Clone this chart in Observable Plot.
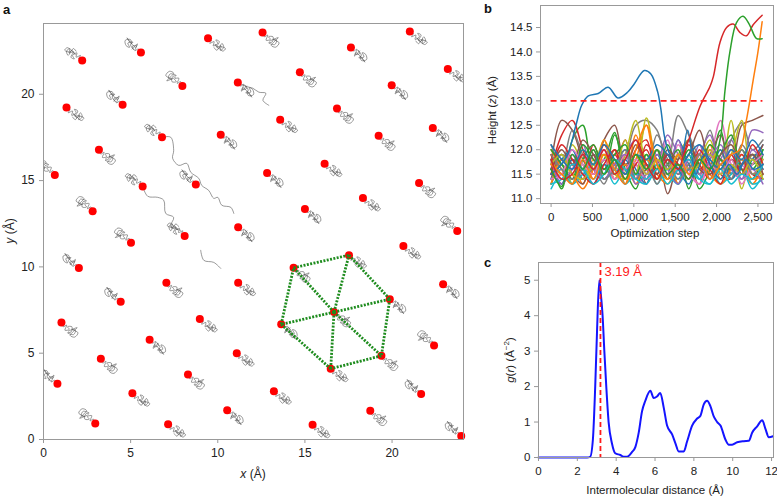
<!DOCTYPE html>
<html><head><meta charset="utf-8">
<script src="https://cdn.jsdelivr.net/npm/d3@7"></script>
<script src="https://cdn.jsdelivr.net/npm/@observablehq/plot@0.6"></script>
<style>
body{margin:0;background:#fff;font-family:"Liberation Sans",Arial,sans-serif;}
#wrap{position:relative;width:777px;height:498px;overflow:hidden;background:#fff;}
.abs{position:absolute;}
.lab{position:absolute;font-weight:bold;font-size:13px;color:#111;}
.t{position:absolute;font-size:12px;color:#222;white-space:nowrap;transform:translate(-50%,-50%);}
.rot{transform:translate(-50%,-50%) rotate(-90deg);}
</style></head><body><div id="wrap">
<div class="lab" style="left:3px;top:2px">a</div>
<div class="lab" style="left:484px;top:1px">b</div>
<div class="lab" style="left:484px;top:255px">c</div>
<div id="pa" class="abs" style="left:0;top:0"></div>
<div id="pb" class="abs" style="left:480px;top:0"></div>
<div id="pc" class="abs" style="left:480px;top:250px"></div>
<div class="t" style="left:253px;top:474px"><i>x</i> (Å)</div>
<div class="t rot" style="left:10px;top:231px"><i>y</i> (Å)</div>
<div class="t" style="left:655px;top:233px;font-size:11.5px">Optimization step</div>
<div class="t rot" style="left:492px;top:110px;font-size:11.5px">Height (<i>z</i>) (Å)</div>
<div class="t" style="left:655px;top:490px;font-size:11.5px">Intermolecular distance (Å)</div>
<div class="t rot" style="left:509px;top:360px;font-size:11.5px"><i>g</i>(<i>r</i>) (Å<sup style="font-size:8px">−2</sup>)</div>
</div>
<script>
// ---------- Panel a data ----------
const aX = [2.22,5.59,7.97,9.44,11.15,12.57,1.32,4.54,3.18,6.80,10.17,0.65,5.69,8.74,2.82,8.10,11.17,5.02,
  21.02,17.64,14.71,23.20,19.98,16.84,13.58,22.34,19.23,16.13,12.83,21.55,18.33,15.00,23.74,20.65,
  2.03,7.05,11.17,4.43,1.03,8.97,6.09,3.29,11.09,0.80,8.29,5.10,10.54,2.97,7.15,
  22.93,22.41,13.22,21.67,18.75,15.44,23.97,
  14.35,17.53,19.87,19.39,16.48,13.64,16.67];
const aY = [21.95,22.42,20.48,23.25,20.68,23.58,19.23,19.40,16.79,17.51,17.66,15.32,14.65,14.78,13.22,11.79,12.29,11.40,
  23.63,22.71,21.28,21.47,20.52,19.17,18.53,18.05,17.60,15.98,15.44,14.86,13.99,13.35,12.08,11.21,
  9.93,9.08,9.08,7.98,6.78,6.98,5.78,4.68,5.00,3.23,3.77,2.68,1.70,0.93,0.89,
  9.00,5.45,2.80,2.63,1.66,0.85,0.21,
  9.95,10.68,8.13,4.85,4.10,6.67,7.38];
const aDir = [-1,-1,-1,1,1,1,1,-1,1,-1,1,-1,-1,-1,-1,-1,1,-1,
  1,1,1,1,1,1,1,1,1,1,1,1,1,1,-1,1,
  -1,1,1,-1,1,1,1,1,1,-1,1,1,1,-1,1,
  1,-1,1,-1,1,1,-1,
  1,1,1,1,1,1,1];
// squiggle shapes (offsets in Å from each molecule)
const tangle0 = [[0,0],[0.2,-0.1],[0.1,-0.3],[0.35,-0.2],[0.3,-0.45],[0.55,-0.3],[0.45,-0.1],[0.65,-0.2],[0.5,-0.5],[0.75,-0.45],[0.7,-0.7],[0.9,-0.55],[0.8,-0.3],[0.6,-0.6],[0.4,-0.35],[0.85,-0.75],[1.0,-0.6],[0.7,-0.5],[0.5,-0.7],[0.35,-0.55]];
const tangle1 = [[0,0],[0.15,-0.2],[0.35,-0.1],[0.25,-0.4],[0.5,-0.35],[0.4,-0.15],[0.6,-0.45],[0.45,-0.6],[0.75,-0.55],[0.65,-0.3],[0.85,-0.4],[0.9,-0.7],[0.6,-0.75],[0.55,-0.5],[0.8,-0.85],[0.3,-0.3],[0.2,-0.5],[0.5,-0.2]];
const tangle2 = [[0,0],[0.1,-0.25],[0.3,-0.15],[0.2,-0.45],[0.45,-0.4],[0.35,-0.25],[0.6,-0.25],[0.55,-0.55],[0.35,-0.6],[0.7,-0.7],[0.8,-0.45],[0.6,-0.4],[0.95,-0.6],[0.75,-0.85],[0.5,-0.75],[0.65,-0.55],[0.9,-0.3],[0.4,-0.5]];
const trail1 = [[6.78,17.51],[7.30,17.51],[7.47,16.75],[7.41,16.29],[7.76,15.88],[8.22,16.0],[8.45,15.48],[8.91,15.13],[9.08,14.72],[9.48,14.43],[9.77,13.97],[10.0,14.03],[10.23,13.57],[10.75,13.45],[10.92,13.10]];
const trail2 = [[5.69,14.67],[5.98,14.09],[6.55,14.03],[6.90,13.86],[7.01,13.10],[7.47,12.87],[7.30,12.35],[7.87,12.12]];
const trail3 = [[11.15,20.70],[11.61,20.46],[12.01,20.35],[12.36,20.12],[12.76,20.06],[12.59,19.65],[12.93,19.36]];
const trail4 = [[9.02,10.96],[9.20,10.38],[9.77,10.26],[10.17,9.91]];
const ticksA = [0,5,10,15,20];

// ---------- Panel b data ----------
const stepB = [0,128,256,384,512,640,768,896,1024,1152,1280,1408,1536,1664,1792,1920,2048,2176,2304,2432,2560];
const bgSeries = [
 [11.9,11.4,11.7,11.3,11.8,11.5,12.0,11.3,12.3,11.6,11.4,11.9,11.3,11.7,11.5,12.1,11.4,11.8,11.6,11.3,11.7],
 [11.8,11.2,12.2,12.5,11.6,11.8,12.35,11.5,11.9,11.4,12.0,11.7,11.3,11.9,11.2,11.6,12.4,11.5,11.8,11.6,12.0],
 [11.6,12.3,12.6,12.0,11.5,12.1,11.7,12.2,11.4,12.1,11.8,11.5,11.9,11.6,11.3,12.0,11.5,11.4,11.7,11.9,11.5],
 [11.4,11.9,11.6,12.1,11.5,11.8,11.4,11.9,12.2,11.5,11.7,12.3,11.9,11.6,12.1,11.5,11.8,12.2,11.7,12.4,12.35],
 [11.7,12.6,12.4,11.8,11.5,12.2,12.5,11.7,11.9,11.3,12.0,11.1,11.8,12.2,11.6,11.9,12.3,11.5,12.5,12.6,12.7],
 [11.3,11.6,11.4,11.7,11.3,11.6,11.4,11.9,11.5,11.3,11.7,11.4,12.1,11.6,11.3,11.8,12.6,11.7,11.4,11.9,11.6],
 [12.1,11.7,12.4,11.9,11.6,12.0,11.5,11.8,12.5,12.6,12.4,11.7,12.7,12.3,11.9,12.4,11.6,12.2,12.55,12.0,12.2],
 [11.5,11.9,11.3,12.0,11.7,12.2,11.4,11.9,12.6,11.8,12.0,11.4,11.9,12.2,11.7,12.0,11.5,12.6,11.2,11.9,11.8],
 [11.2,11.5,11.3,11.6,11.4,11.7,11.3,11.6,11.5,11.8,11.3,11.6,11.4,11.9,11.5,11.3,11.7,11.4,11.6,11.2,11.5],
 [11.5,11.8,12.0,11.5,11.9,11.4,11.7,12.0,11.6,11.3,11.9,11.5,12.2,11.7,11.4,11.9,11.6,12.0,11.5,11.8,12.1],
 [12.0,11.6,11.3,11.9,11.5,12.2,11.7,11.4,11.8,12.5,11.6,11.9,11.3,11.8,11.5,11.7,12.0,11.4,11.9,11.5,11.6],
 [11.3,11.7,11.4,12.1,11.8,11.5,12.3,11.6,11.2,11.9,11.4,11.7,12.0,11.2,11.8,11.5,11.9,12.3,11.6,11.4,11.9],
 [11.9,11.5,11.8,11.4,12.1,11.6,11.9,11.5,12.0,12.2,11.4,11.8,11.5,12.1,11.7,11.4,11.8,11.6,11.9,11.5,11.4],
 [11.6,11.3,11.9,11.5,11.7,12.0,11.6,11.3,11.7,11.4,12.0,11.6,12.2,11.5,11.9,12.3,11.7,11.9,11.4,12.0,11.7],
 [11.4,11.8,11.5,11.3,11.9,11.6,12.0,11.7,11.4,11.6,11.8,11.4,11.6,11.9,12.4,11.7,11.5,11.8,11.6,11.7,12.1],
 [11.7,11.4,11.6,11.9,11.4,11.8,11.5,11.9,11.7,11.4,11.6,12.2,11.5,11.8,11.4,11.9,11.5,12.0,11.7,11.5,11.8],
 [11.5,11.9,11.7,11.4,11.6,11.3,11.8,11.5,11.9,11.6,12.3,11.8,11.5,11.7,11.9,11.4,11.8,11.5,12.1,11.8,11.9],
 [11.8,11.5,12.1,11.7,11.4,11.9,11.6,12.2,11.5,12.65,11.7,11.4,11.9,11.6,11.8,12.2,11.6,11.9,12.6,11.5,11.8],
 [11.4,11.6,11.3,11.5,11.7,11.4,11.6,11.3,11.5,11.4,11.7,11.5,11.3,11.6,11.4,11.7,11.3,11.5,11.8,11.3,11.4],
 [11.6,11.3,11.8,11.6,11.3,11.7,11.5,11.8,11.4,11.7,11.5,11.9,11.6,11.3,11.8,11.6,12.0,11.4,11.7,11.9,11.6],
 [11.3,11.8,11.5,11.2,11.6,11.9,11.4,11.7,11.3,11.8,11.5,11.3,11.7,11.4,11.9,11.5,11.3,11.6,11.8,11.4,11.5],
 [12.0,11.7,11.4,11.8,12.1,11.6,11.9,12.1,11.5,11.9,11.6,12.1,11.6,12.0,11.7,12.1,11.8,11.6,12.0,11.7,12.0],
 [11.5,12.1,11.8,11.5,11.3,11.7,12.0,11.4,11.7,12.0,11.5,11.9,11.7,11.4,12.0,11.6,11.3,11.9,11.5,12.1,11.7],
 [11.8,11.3,11.6,11.9,11.6,11.4,11.7,11.9,11.3,11.5,11.9,11.6,11.3,11.8,11.5,11.8,12.1,11.6,11.4,11.6,11.3],
 [11.6,12.0,11.7,12.2,11.9,11.5,11.8,11.6,12.1,11.7,11.5,12.0,11.8,12.2,11.6,11.5,11.9,12.1,11.7,11.9,11.5],
 [11.4,11.5,12.0,11.7,11.5,12.0,11.4,11.6,11.8,11.5,11.8,11.5,11.9,11.5,11.3,11.7,11.5,11.8,11.3,11.7,11.9],
 [11.9,11.6,11.4,11.6,12.0,11.4,11.6,12.0,11.4,11.7,11.3,11.7,11.4,11.6,11.9,11.4,11.7,11.4,12.0,11.5,11.6],
 [11.7,11.9,11.5,11.4,11.7,11.9,11.5,11.4,11.9,11.5,11.8,11.6,11.9,11.5,11.7,11.9,11.5,11.7,11.5,11.8,11.4],
 [11.3,11.4,11.7,11.6,11.3,11.5,11.8,11.6,11.4,11.3,11.6,11.3,11.6,11.8,11.4,11.3,11.6,11.3,11.5,11.4,11.7],
 [12.1,11.8,11.6,12.0,11.7,12.1,11.8,11.5,11.9,11.8,12.1,11.9,11.6,11.9,12.1,11.8,11.6,12.0,11.8,12.2,11.9]
];
const blueStep = [0,100,200,300,370,450,570,690,808,927,1007,1126,1206,1285,1325,1365,1393,1450,1550,1650,1750,1850,1950,2050,2150,2250,2350,2450,2560];
const blueZ = [11.5,11.65,11.9,12.5,12.91,13.1,13.15,13.28,13.06,13.18,13.35,13.62,13.55,13.2,12.85,12.32,12.1,11.85,11.6,12.4,11.5,11.9,11.6,11.4,11.7,11.5,11.8,11.6,11.7];
const redStep = [0,128,256,384,512,640,768,896,1024,1152,1280,1408,1536,1600,1684,1803,1922,1962,2042,2121,2201,2281,2360,2440,2551];
const redZ = [11.8,11.4,11.5,11.9,11.6,12.0,11.5,11.8,12.2,11.7,11.4,11.8,11.6,11.9,12.3,12.9,13.3,13.5,14.2,14.5,14.57,14.4,14.33,14.55,14.75];
const greenStep = [0,128,256,384,512,640,768,896,1024,1152,1280,1408,1536,1664,1792,1920,2042,2101,2161,2241,2320,2400,2480,2551];
const greenZ = [11.6,11.25,11.9,11.6,12.0,11.5,11.8,11.4,11.9,11.6,12.0,11.5,11.7,11.4,11.8,11.6,12.2,13.2,14.0,14.6,14.73,14.55,14.28,14.27];
const orangeStep = [0,128,256,384,512,640,768,896,1024,1152,1280,1408,1536,1664,1792,1920,2048,2176,2281,2360,2440,2500,2551];
const orangeZ = [11.7,11.5,11.3,11.8,11.4,11.9,11.6,11.3,12.0,12.5,11.7,11.4,11.9,11.5,11.8,11.4,11.7,11.9,12.0,12.6,13.4,14.0,14.62];
const cutoffZ = 13.0;
const ticksBx = [0,500,1000,1500,2000,2500];
const ticksBy = [11.0,11.5,12.0,12.5,13.0,13.5,14.0,14.5];
const tab10 = ["#1f77b4","#ff7f0e","#2ca02c","#d62728","#9467bd","#8c564b","#e377c2","#7f7f7f","#bcbd22","#17becf"];

// ---------- Panel c data ----------
const cR = [0,0.5,1,1.5,2,2.5,2.66,2.8,2.92,3.01,3.13,3.21,3.3,3.39,3.49,3.61,3.78,3.95,4.21,4.38,4.56,4.81,4.99,5.16,5.33,5.5,5.76,5.93,6.1,6.27,6.45,6.62,6.88,7.05,7.22,7.48,7.65,7.91,8.17,8.34,8.51,8.68,8.85,9.03,9.2,9.37,9.63,9.8,9.97,10.23,10.57,10.83,11.0,11.26,11.52,11.69,11.86,12.08];
const cG = [0,0,0,0,0,0,0.02,0.5,2.0,3.5,5.0,4.6,4.0,3.0,2.0,1.0,0.4,0.12,0.07,0.02,0.02,0.15,0.3,0.7,1.3,1.6,1.88,1.68,1.72,1.82,1.4,0.9,0.65,0.4,0.17,0.17,0.45,0.9,1.1,1.18,1.5,1.6,1.45,1.15,1.0,0.9,0.5,0.36,0.36,0.43,0.46,0.47,0.7,0.88,1.05,0.8,0.57,0.6];
const peakR = 3.19;
const peakLabel = "3.19 Å";
const ticksCx = [0,2,4,6,8,10,12];
const ticksCy = [0,1,2,3,4,5];

const baseStyle = {background:"transparent", fontFamily:"Liberation Sans, Arial, sans-serif", color:"#222", overflow:"visible"};

// ---------- Panel a ----------
const ptsA = aX.map((x,i)=>({x, y:aY[i], d:aDir[i], t:i%3}));
const tangles = [tangle0, tangle1, tangle2];
const traj = [];
ptsA.forEach((p,i)=>tangles[p.t].forEach(([dx,dy])=>traj.push({id:"m"+i, x:p.x+p.d*dx, y:p.y+p.d*dy})));
[trail1,trail2,trail3,trail4].forEach((tr,k)=>tr.forEach(([x,y])=>traj.push({id:"t"+k, x, y})));
const n = aX.length, c = n-1, ring = [n-7,n-6,n-5,n-4,n-3,n-2];
const hexPairs = [];
ring.forEach((r,i)=>{ hexPairs.push([r, ring[(i+1)%6]]); hexPairs.push([c, r]); });
const hexEdges = hexPairs.map(([i,j])=>({x1:aX[i],y1:aY[i],x2:aX[j],y2:aY[j]}));

document.getElementById("pa").append(Plot.plot({
  width:480, height:480, marginLeft:43, marginRight:17, marginTop:23, marginBottom:41,
  style:{...baseStyle, fontSize:"12px"},
  x:{domain:[0,24.1]}, y:{domain:[0,24.1]},
  marks:[
    Plot.line(traj,{x:"x",y:"y",z:"id",stroke:"#555",strokeWidth:0.6,curve:"catmull-rom",clip:true}),
    Plot.dot(ptsA,{x:"x",y:"y",r:4,fill:"#ff0000",stroke:"none"}),
    Plot.link(hexEdges,{x1:"x1",y1:"y1",x2:"x2",y2:"y2",stroke:"#1e8c1e",strokeWidth:2.8,strokeDasharray:"2,1.4"}),
    Plot.frame({stroke:"#999"}),
    Plot.axisX({ticks:ticksA, tickSize:4, tickPadding:5, label:null, stroke:"#999"}),
    Plot.axisY({ticks:ticksA, tickSize:4, tickPadding:5, label:null, stroke:"#999"})
  ]
}));

// ---------- Panel b ----------
const linesB = [];
bgSeries.forEach((s,k)=>s.forEach((v,i)=>linesB.push({id:"b"+k, step:stepB[i], z:v, col:tab10[(k+1)%10]})));
const specials = [[blueStep,blueZ,tab10[0]],[orangeStep,orangeZ,tab10[1]],[redStep,redZ,tab10[3]],[greenStep,greenZ,tab10[2]]];
specials.forEach(([xs,zs,col],k)=>xs.forEach((x,i)=>linesB.push({id:"s"+k, step:x, z:zs[i], col})));

document.getElementById("pb").append(Plot.plot({
  width:297, height:250, marginLeft:60, marginRight:4, marginTop:5, marginBottom:47,
  style:{...baseStyle, fontSize:"11.5px"},
  x:{domain:[-128,2688]}, y:{domain:[10.9,14.95]}, color:{type:"identity"},
  marks:[
    Plot.line(linesB,{x:"step",y:"z",z:"id",stroke:"col",strokeWidth:1.5,curve:"catmull-rom",clip:true}),
    Plot.ruleY([cutoffZ],{x1:0,x2:2560,stroke:"#ff1a1a",strokeWidth:1.6,strokeDasharray:"6,4"}),
    Plot.frame({stroke:"#999"}),
    Plot.axisX({ticks:ticksBx, tickFormat:d3.format(","), tickSize:4, tickPadding:5, label:null, stroke:"#999"}),
    Plot.axisY({ticks:ticksBy, tickFormat:d3.format(".1f"), tickSize:4, tickPadding:4, label:null, stroke:"#999"})
  ]
}));

// ---------- Panel c ----------
const gr = cR.map((r,i)=>({r, g:cG[i]}));
document.getElementById("pc").append(Plot.plot({
  width:297, height:248, marginLeft:58, marginRight:4, marginTop:12, marginBottom:41,
  style:{...baseStyle, fontSize:"11.5px"},
  x:{domain:[0,12.1]}, y:{domain:[0,5.5]},
  marks:[
    Plot.line(gr,{x:"r",y:"g",stroke:"#1414ff",strokeWidth:2,curve:"monotone-x"}),
    Plot.ruleX([peakR],{stroke:"#ff1a1a",strokeWidth:1.8,strokeDasharray:"5,3"}),
    Plot.text([peakLabel],{x:peakR,y:5.24,text:d=>d,textAnchor:"start",dx:4,fill:"#ff1a1a",fontSize:13}),
    Plot.frame({stroke:"#999"}),
    Plot.axisX({ticks:ticksCx, tickFormat:d3.format("d"), tickSize:4, tickPadding:5, label:null, stroke:"#999"}),
    Plot.axisY({ticks:ticksCy, tickFormat:d3.format("d"), tickSize:4, tickPadding:4, label:null, stroke:"#999"})
  ]
}));
</script>
</body></html>
